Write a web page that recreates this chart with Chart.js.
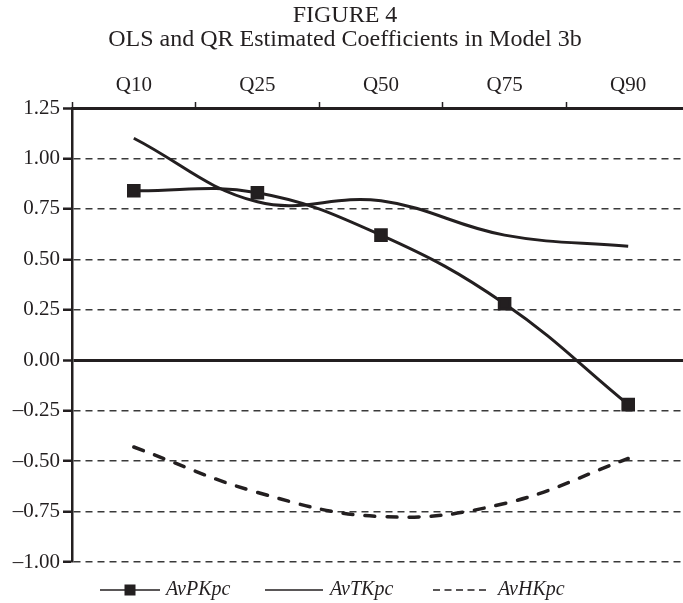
<!DOCTYPE html>
<html>
  <head>
    <meta charset="utf-8" />
    <title>Figure 4</title>
    <script src="https://cdn.jsdelivr.net/npm/chart.js"></script>
    <style>
      * {
        box-sizing: border-box;
        margin: 0;
        padding: 0;
      }
      html,
      body {
        width: 683px;
        height: 603px;
        overflow: hidden;
        background: #fff;
      }
      #wrap {
        position: relative;
        width: 683px;
        height: 603px;
        overflow: hidden;
      }
      #chart {
        display: block;
      }
    </style>
  </head>
  <body>
    <!-- canvas is a little wider than the box: the plot runs off the right edge -->
    <div id="wrap">
      <canvas id="chart" width="690" height="603"></canvas>
    </div>

    <script>
      // data
      const quantiles = ["Q10", "Q25", "Q50", "Q75", "Q90"];
      const avPKpc = [0.84, 0.83, 0.62, 0.28, -0.22];
      const avTKpc = [1.1, 0.785, 0.79, 0.62, 0.565];
      const avHKpc = [-0.43, -0.655, -0.775, -0.71, -0.487];
      const seriesNames = ["AvPKpc", "AvTKpc", "AvHKpc"];
      const yMin = -1.0;
      const yMax = 1.25;
      const yStep = 0.25;

      const ink = "#231f20";
      const serif = "'Liberation Serif', 'Times New Roman', serif";

      // 0.00 and the top line are solid, the rest dashed
      const isSolid = (v) => Math.abs(v) < 1e-6 || Math.abs(v - yMax) < 1e-6;

      // legend under the plot, drawn by hand so the spacing matches
      const bottomLegend = {
        id: "bottomLegend",
        afterDraw(chart) {
          const ctx = chart.ctx;
          const y = 590;
          const slots = [
            { x: 100, len: 60, tx: 166 },
            { x: 265, len: 58, tx: 330 },
            { x: 433, len: 55, tx: 498 },
          ];
          ctx.save();
          chart.data.datasets.forEach((ds, i) => {
            const s = slots[i];
            ctx.strokeStyle = ink;
            ctx.lineWidth = 1.6;
            ctx.lineCap = "butt";
            ctx.setLineDash(ds.borderDash ? [7, 4.5] : []);
            ctx.beginPath();
            ctx.moveTo(s.x, y);
            ctx.lineTo(s.x + s.len, y);
            ctx.stroke();
            ctx.setLineDash([]);
            if (ds.pointStyle === "rect") {
              ctx.fillStyle = ink;
              ctx.fillRect(s.x + s.len / 2 - 5.5, y - 5.5, 11, 11);
            }
            ctx.fillStyle = ink;
            ctx.font = "italic 20px " + serif;
            ctx.textAlign = "left";
            ctx.textBaseline = "middle";
            ctx.fillText(ds.label, s.tx, y);
          });
          ctx.restore();
        },
      };

      new Chart(document.getElementById("chart"), {
        type: "line",
        data: {
          labels: quantiles,
          datasets: [
            {
              label: seriesNames[0],
              data: avPKpc,
              borderColor: ink,
              backgroundColor: ink,
              borderWidth: 3,
              pointStyle: "rect",
              pointRadius: 7.5,
              pointHoverRadius: 7.5,
              tension: 0.4,
            },
            {
              label: seriesNames[1],
              data: avTKpc,
              borderColor: ink,
              borderWidth: 3,
              pointRadius: 0,
              tension: 0.4,
            },
            {
              label: seriesNames[2],
              data: avHKpc,
              borderColor: ink,
              borderWidth: 3.5,
              borderDash: [10, 12],
              borderCapStyle: "round",
              pointRadius: 0,
              tension: 0.4,
            },
          ],
        },
        options: {
          responsive: false,
          animation: false,
          layout: {
            autoPadding: false,
            padding: { left: 0, right: 0, top: 0, bottom: 41 },
          },
          plugins: {
            legend: { display: false },
            tooltip: { enabled: false },
            title: {
              display: true,
              text: "FIGURE 4",
              color: ink,
              font: { family: serif, size: 24, weight: "normal", lineHeight: 1 },
              padding: { top: 4, bottom: 0 },
            },
            subtitle: {
              display: true,
              text: "OLS and QR Estimated Coefficients in Model 3b",
              color: ink,
              font: { family: serif, size: 24, weight: "normal", lineHeight: 1 },
              padding: { top: 0, bottom: 0 },
            },
          },
          scales: {
            x: {
              type: "category",
              position: "top",
              offset: true,
              grid: {
                offset: true,
                drawOnChartArea: false,
                drawTicks: true,
                tickLength: 6,
                tickWidth: 1.5,
                tickColor: ink,
                color: ink,
              },
              border: { display: true, color: ink, width: 3 },
              ticks: {
                color: ink,
                font: { family: serif, size: 21 },
                padding: 4,
                maxRotation: 0,
                autoSkip: false,
              },
              afterFit: (scale) => {
                scale.height = 56;
                scale.paddingLeft = 0;
                scale.paddingRight = 0;
              },
            },
            y: {
              min: yMin,
              max: yMax,
              grid: {
                color: (c) => (c.tick && isSolid(c.tick.value) ? ink : "#3a3a3a"),
                lineWidth: (c) => (c.tick && isSolid(c.tick.value) ? 3 : 1.5),
                tickColor: ink,
                tickLength: 9,
                tickWidth: 2.5,
                tickBorderDash: [],
              },
              border: {
                display: true,
                color: ink,
                width: 2.5,
                dash: (c) => (c.tick && !isSolid(c.tick.value) ? [7, 5] : []),
              },
              ticks: {
                stepSize: yStep,
                padding: 3,
                color: ink,
                font: { family: serif, size: 21 },
                callback: (v) => v.toFixed(2).replace("-", "\u2013"),
              },
              afterFit: (scale) => {
                scale.width = 72;
              },
            },
          },
        },
        plugins: [bottomLegend],
      });
    </script>
  </body>
</html>
